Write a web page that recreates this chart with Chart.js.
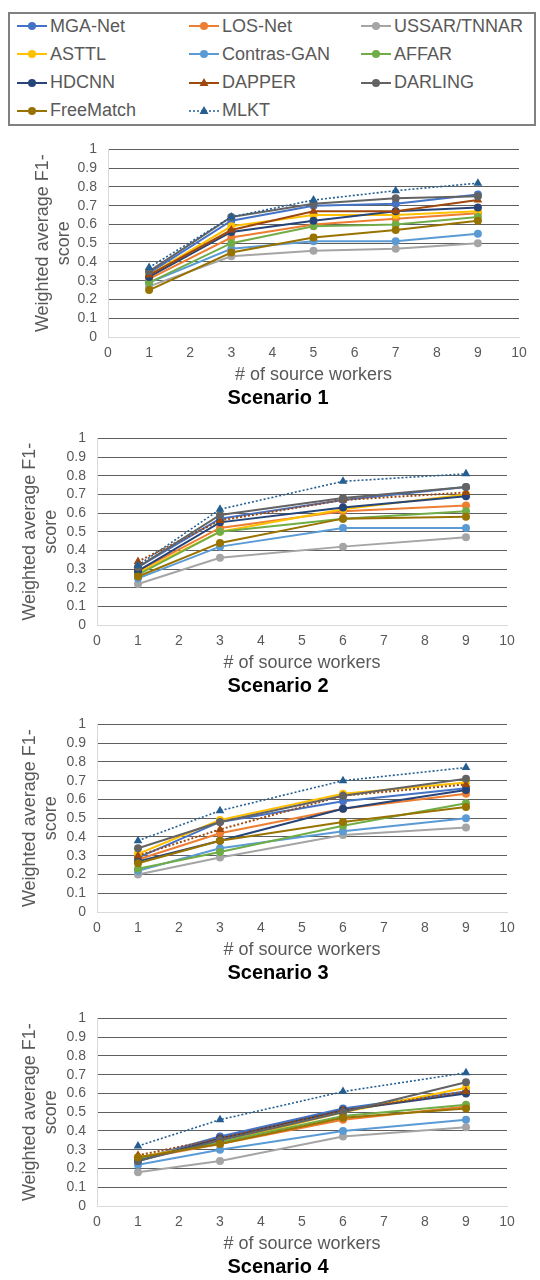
<!DOCTYPE html>
<html>
<head>
<meta charset="utf-8">
<script src="https://cdn.jsdelivr.net/npm/chart.js@4.4.1/dist/chart.umd.min.js"></script>
<style>
  html, body { margin: 0; padding: 0; background: #fff; }
  body { width: 540px; height: 1280px; position: relative; overflow: hidden; font-family: "Liberation Sans", Arial, sans-serif; }
  #legend {
    position: absolute; left: 8px; top: 12px; width: 524px; height: 110px;
    border: 2px solid #808080;
  }
  .item { position: absolute; display: flex; align-items: center; height: 24px; font-size: 18px; color: #595959; white-space: nowrap; }
  .item svg { margin-right: 3px; }
  .box { position: absolute; left: 0; }
</style>
</head>
<body>
<div id="legend"></div>
<div class="box" style="top:130px"><canvas id="c1"></canvas></div>
<div class="box" style="top:419px"><canvas id="c2"></canvas></div>
<div class="box" style="top:705px"><canvas id="c3"></canvas></div>
<div class="box" style="top:999px"><canvas id="c4"></canvas></div>
<script>
// series names and colours
const methods = ['MGA-Net', 'LOS-Net', 'USSAR/TNNAR', 'ASTTL', 'Contras-GAN', 'AFFAR', 'HDCNN', 'DAPPER', 'DARLING', 'FreeMatch', 'MLKT'];
const colors = ['#4472C4', '#ED7D31', '#A5A5A5', '#FFC000', '#5B9BD5', '#70AD47', '#264478', '#9E480E', '#636363', '#997300', '#255E91'];

// x values (# of source workers) per scenario
const workers1 = [1, 3, 5, 7, 9];
const workers2 = [1, 3, 6, 9];
const workers3 = [1, 3, 6, 9];
const workers4 = [1, 3, 6, 9];

// rows follow the order of methods
const scenario1 = [
  [0.34, 0.62, 0.70, 0.71, 0.76],
  [0.31, 0.53, 0.60, 0.63, 0.66],
  [0.27, 0.43, 0.46, 0.47, 0.50],
  [0.33, 0.59, 0.65, 0.65, 0.67],
  [0.29, 0.47, 0.51, 0.51, 0.55],
  [0.29, 0.50, 0.59, 0.60, 0.64],
  [0.32, 0.56, 0.62, 0.67, 0.69],
  [0.33, 0.57, 0.67, 0.67, 0.73],
  [0.35, 0.64, 0.71, 0.74, 0.75],
  [0.25, 0.45, 0.53, 0.57, 0.62],
  [0.37, 0.64, 0.73, 0.78, 0.82]
];
const scenario2 = [
  [0.31, 0.57, 0.67, 0.74],
  [0.29, 0.52, 0.61, 0.64],
  [0.22, 0.36, 0.42, 0.47],
  [0.28, 0.50, 0.62, 0.70],
  [0.25, 0.42, 0.52, 0.52],
  [0.27, 0.50, 0.57, 0.61],
  [0.29, 0.55, 0.63, 0.69],
  [0.34, 0.56, 0.67, 0.71],
  [0.31, 0.59, 0.68, 0.74],
  [0.26, 0.44, 0.57, 0.58],
  [0.32, 0.62, 0.77, 0.81]
];
const scenario3 = [
  [0.29, 0.48, 0.59, 0.66],
  [0.28, 0.42, 0.55, 0.63],
  [0.20, 0.29, 0.41, 0.45],
  [0.31, 0.49, 0.63, 0.69],
  [0.22, 0.34, 0.43, 0.50],
  [0.23, 0.32, 0.46, 0.58],
  [0.27, 0.38, 0.55, 0.65],
  [0.30, 0.44, 0.62, 0.68],
  [0.34, 0.48, 0.62, 0.71],
  [0.26, 0.38, 0.48, 0.56],
  [0.38, 0.54, 0.70, 0.77]
];
const scenario4 = [
  [0.25, 0.37, 0.52, 0.61],
  [0.25, 0.33, 0.46, 0.53],
  [0.18, 0.24, 0.37, 0.42],
  [0.26, 0.34, 0.50, 0.63],
  [0.22, 0.30, 0.40, 0.46],
  [0.25, 0.34, 0.48, 0.54],
  [0.24, 0.36, 0.51, 0.60],
  [0.27, 0.36, 0.51, 0.61],
  [0.24, 0.35, 0.50, 0.66],
  [0.26, 0.33, 0.47, 0.52],
  [0.32, 0.46, 0.61, 0.71]
];

const FONT = '"Liberation Sans", Arial, sans-serif';
const GREY = '#595959';

// legend (html)
const legend = document.getElementById('legend');
methods.forEach((name, i) => {
  const col = i % 3, row = Math.floor(i / 3);
  const tri = name === 'DAPPER' || name === 'MLKT';
  const dash = name === 'MLKT' ? 'stroke-dasharray="2,2" stroke-width="1.6"' : 'stroke-width="2"';
  const mark = tri
    ? `<polygon points="15,5 19.5,13 10.5,13" fill="${colors[i]}"/>`
    : `<circle cx="15" cy="10" r="4" fill="${colors[i]}"/>`;
  const el = document.createElement('div');
  el.className = 'item';
  el.style.left = (7 + col * 172) + 'px';
  el.style.top = (0 + row * 28.3) + 'px';
  el.innerHTML = `<svg width="30" height="20"><line x1="0" y1="10" x2="30" y2="10" stroke="${colors[i]}" ${dash}/>${mark}</svg>${name}`;
  legend.appendChild(el);
});

// bold caption under each chart, centred like the original
const scenarioTitle = {
  id: 'scenarioTitle',
  afterDraw(chart, args, o) {
    const ctx = chart.ctx;
    ctx.save();
    ctx.font = 'bold 20px ' + FONT;
    ctx.fillStyle = '#000';
    ctx.textAlign = 'center';
    ctx.textBaseline = 'middle';
    ctx.fillText(o.text, o.x, chart.height - 12);
    ctx.restore();
  }
};

function makeChart(id, title, workers, values, opt) {
  const canvas = document.getElementById(id);
  canvas.width = 540;
  canvas.height = opt.height;
  canvas.style.width = '540px';
  canvas.style.height = opt.height + 'px';
  const datasets = methods.map((name, i) => {
    const tri = name === 'DAPPER' || name === 'MLKT';
    let dash = [];
    if (name === 'MLKT' || (name === 'DAPPER' && opt.dottedDapper)) dash = [2, 2];
    return {
      label: name,
      data: workers.map((x, j) => ({ x: x, y: values[i][j] })),
      borderColor: colors[i],
      backgroundColor: colors[i],
      borderWidth: name === 'MLKT' ? 1.6 : 2,
      borderDash: dash,
      pointStyle: tri ? 'triangle' : 'circle',
      pointRadius: tri ? 5 : 4,
      pointBorderWidth: 0,
      tension: 0,
      order: methods.length - i
    };
  });
  return new Chart(canvas.getContext('2d'), {
    type: 'line',
    data: { datasets: datasets },
    plugins: [scenarioTitle],
    options: {
      responsive: false,
      animation: false,
      layout: { padding: { top: 12, right: opt.right, bottom: 24, left: 0 } },
      plugins: {
        legend: { display: false },
        tooltip: { enabled: false },
        scenarioTitle: { text: title, x: 278 }
      },
      scales: {
        x: {
          type: 'linear',
          min: 0, max: 10,
          ticks: { stepSize: 1, autoSkip: false, color: GREY, font: { family: FONT, size: 14 }, padding: 8, maxRotation: 0 },
          grid: { display: false, drawTicks: false },
          border: { display: true, color: '#D9D9D9', width: 1 },
          title: { display: true, text: '# of source workers', color: GREY, font: { family: FONT, size: 18 }, padding: 0 },
          afterFit: (s) => { s.height = 49; }
        },
        y: {
          min: 0, max: 1,
          ticks: { stepSize: 0.1, autoSkip: false, color: GREY, font: { family: FONT, size: 14 }, padding: 11,
            callback: (v) => Math.round(v * 10) / 10 },
          grid: { color: (c) => c.tick && c.tick.value === 0 ? '#D9D9D9' : '#5f5f5f', lineWidth: 1, drawTicks: false },
          border: { display: true, color: '#D9D9D9', width: 1 },
          title: { display: true, text: ['Weighted average F1-', 'score'], color: GREY,
            font: { family: FONT, size: 18 }, padding: { top: opt.titlePad, bottom: 0 } },
          afterFit: (s) => { s.width = opt.left; }
        }
      }
    }
  });
}

makeChart('c1', 'Scenario 1', workers1, scenario1, { height: 280, left: 108, right: 21, titlePad: 32, dottedDapper: false });
makeChart('c2', 'Scenario 2', workers2, scenario2, { height: 279, left: 97, right: 33, titlePad: 19, dottedDapper: true });
makeChart('c3', 'Scenario 3', workers3, scenario3, { height: 280, left: 97, right: 33, titlePad: 19, dottedDapper: true });
makeChart('c4', 'Scenario 4', workers4, scenario4, { height: 280, left: 97, right: 33, titlePad: 19, dottedDapper: true });
</script>
</body>
</html>
